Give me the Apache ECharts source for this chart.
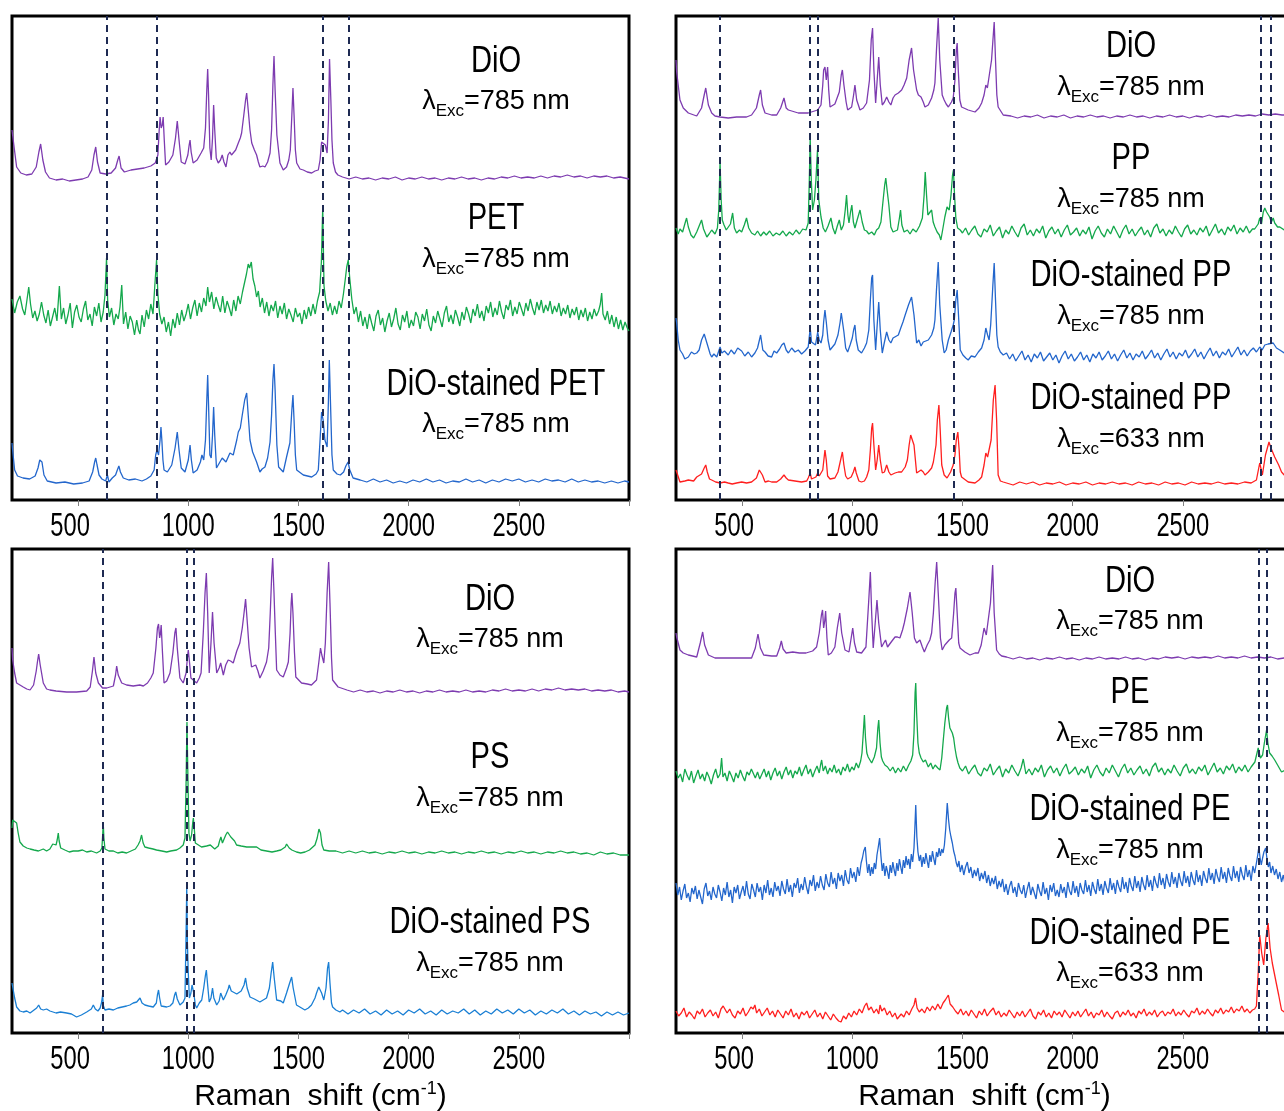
<!DOCTYPE html>
<html>
<head>
<meta charset="utf-8">
<script src="https://cdn.jsdelivr.net/npm/echarts@6/dist/echarts.min.js"></script>
<style>
html, body { margin: 0; padding: 0; background: #fff; }
#main { width: 1284px; height: 1111px; }
</style>
</head>
<body>
<div id="main"></div>
<script>
// x axis ticks (Raman shift, cm-1)
var tickLabels = [500, 1000, 1500, 2000, 2500];
var tickMarks = [500, 1000, 1500, 2000, 2500, 3000];

// dashed reference lines, one list per panel
var dashP1 = [629, 856, 1609, 1726];
var dashP2 = [400, 808, 844, 1461, 2854, 2900];
var dashP3 = [612, 995, 1024];
var dashP4 = [2845, 2881];

// text of the trace labels [name, excitation nm]
var labelsP1 = [['DiO', '785'], ['PET', '785'], ['DiO-stained PET', '785']];
var labelsP2 = [['DiO', '785'], ['PP', '785'], ['DiO-stained PP', '785'], ['DiO-stained PP', '633']];
var labelsP3 = [['DiO', '785'], ['PS', '785'], ['DiO-stained PS', '785']];
var labelsP4 = [['DiO', '785'], ['PE', '785'], ['DiO-stained PE', '785'], ['DiO-stained PE', '633']];

// spectra, [shift, stacked intensity] (arb. units)
var p1DiO = [[200,370],[210,352],[221,333],[240,327],[265,325],[290,326],[310,333],[322,348],[330,356],[340,340],[352,328],[370,322],[400,320],[430,321],[460,319],[490,320],[520,321],[545,323],[562,330],[572,345],[580,353],[588,338],[600,327],[625,326],[650,327],[670,332],[680,340],[686,344],[695,332],[710,328],[740,330],[770,331],[800,332],[830,334],[850,337],[862,345],[868,370],[872,383],[877,372],[882,375],[886,383],[891,360],[897,335],[912,338],[930,345],[942,362],[950,379],[958,360],[968,338],[985,336],[998,345],[1004,355],[1008,360],[1013,348],[1022,337],[1040,340],[1058,347],[1070,352],[1078,372],[1084,410],[1088,431],[1092,405],[1098,352],[1104,340],[1110,362],[1115,395],[1120,370],[1127,342],[1136,337],[1146,340],[1154,345],[1162,338],[1171,333],[1180,345],[1189,348],[1196,345],[1204,346],[1215,350],[1227,357],[1236,362],[1242,367],[1252,385],[1260,400],[1265,407],[1272,390],[1280,370],[1288,357],[1300,350],[1310,345],[1318,338],[1325,333],[1338,334],[1348,333],[1360,338],[1371,347],[1378,370],[1384,415],[1389,444],[1394,410],[1402,365],[1416,337],[1431,330],[1446,333],[1456,340],[1463,350],[1470,385],[1475,412],[1480,385],[1486,350],[1492,337],[1507,331],[1522,330],[1540,328],[1560,327],[1575,329],[1590,330],[1598,340],[1605,358],[1612,356],[1622,355],[1630,347],[1636,380],[1641,441],[1647,400],[1652,360],[1658,337],[1668,328],[1679,325],[1700,323],[1730,321],[1760,323],[1790,321],[1820,322],[1850,320],[1880,322],[1910,321],[1940,323],[1970,320],[2000,322],[2030,321],[2060,323],[2090,321],[2120,322],[2150,320],[2180,322],[2210,321],[2240,323],[2270,321],[2300,322],[2330,320],[2360,322],[2390,321],[2420,323],[2450,322],[2480,324],[2510,322],[2540,323],[2570,322],[2600,324],[2630,322],[2660,324],[2690,323],[2720,325],[2750,323],[2780,324],[2810,322],[2840,324],[2870,323],[2900,324],[2930,322],[2960,323],[3000,321]];

var p1PET = [[200,201],[212,187],[224,198],[236,204],[248,191],[258,185],[266,197],[276,213],[284,196],[294,182],[304,189],[314,179],[324,186],[334,198],[344,185],[354,177],[364,190],[374,174],[384,183],[394,192],[404,179],[415,214],[424,181],[434,192],[444,176],[454,185],[464,197],[474,172],[484,188],[494,195],[504,183],[514,178],[524,191],[534,199],[544,180],[554,186],[564,174],[574,193],[584,184],[594,197],[604,178],[614,188],[622,205],[629,242],[634,200],[642,183],[652,192],[662,175],[672,186],[682,181],[690,193],[698,215],[706,176],[716,188],[726,171],[736,184],[746,178],[756,165],[766,180],[774,170],[781,166],[790,185],[800,173],[810,190],[820,181],[830,196],[840,186],[848,214],[856,240],[862,206],[870,186],[880,176],[890,183],[900,168],[910,178],[920,164],[930,181],[940,172],[950,187],[960,175],[970,190],[980,179],[990,186],[1000,196],[1010,181],[1020,192],[1030,200],[1040,184],[1050,197],[1060,188],[1070,202],[1080,194],[1088,213],[1096,198],[1106,208],[1116,191],[1126,203],[1136,195],[1146,188],[1156,204],[1166,187],[1176,199],[1186,192],[1196,184],[1206,200],[1216,189],[1226,204],[1236,196],[1246,208],[1256,218],[1264,226],[1272,236],[1278,232],[1286,238],[1294,221],[1302,214],[1310,203],[1318,209],[1326,193],[1336,202],[1346,187],[1356,198],[1366,184],[1376,195],[1386,189],[1396,199],[1406,182],[1416,194],[1426,186],[1436,197],[1446,181],[1456,191],[1466,185],[1476,178],[1486,192],[1496,183],[1506,187],[1516,176],[1526,190],[1536,181],[1546,193],[1556,184],[1566,196],[1576,186],[1586,199],[1596,208],[1604,238],[1610,292],[1616,214],[1624,199],[1634,189],[1644,197],[1654,185],[1664,194],[1674,186],[1684,199],[1694,192],[1704,206],[1712,220],[1719,233],[1726,240],[1733,221],[1742,201],[1752,186],[1762,193],[1772,178],[1782,189],[1792,174],[1802,183],[1812,171],[1822,186],[1832,177],[1842,169],[1852,184],[1862,190],[1872,175],[1882,182],[1892,168],[1902,179],[1912,187],[1922,173],[1932,181],[1942,192],[1952,176],[1962,170],[1972,185],[1982,178],[1992,189],[2002,172],[2012,180],[2022,174],[2032,188],[2042,183],[2052,171],[2062,186],[2072,179],[2082,191],[2092,175],[2102,169],[2112,184],[2122,177],[2132,189],[2142,181],[2152,173],[2162,187],[2172,194],[2182,178],[2192,185],[2202,176],[2212,190],[2222,183],[2232,174],[2242,188],[2252,180],[2262,193],[2272,186],[2282,177],[2292,191],[2302,184],[2312,196],[2322,182],[2332,189],[2342,179],[2352,194],[2362,187],[2372,198],[2382,183],[2392,192],[2402,185],[2412,199],[2422,188],[2432,181],[2442,195],[2452,190],[2462,200],[2472,184],[2482,193],[2492,186],[2502,198],[2512,191],[2522,184],[2532,197],[2542,189],[2552,201],[2562,192],[2572,185],[2582,198],[2592,190],[2602,200],[2612,187],[2622,195],[2632,189],[2642,199],[2652,186],[2662,194],[2672,188],[2682,197],[2692,184],[2702,192],[2712,186],[2722,195],[2732,182],[2742,191],[2752,185],[2762,193],[2772,180],[2782,190],[2792,183],[2802,192],[2812,179],[2822,188],[2832,181],[2842,191],[2852,184],[2862,189],[2870,196],[2876,207],[2882,186],[2892,180],[2902,189],[2912,176],[2922,185],[2932,173],[2942,183],[2952,171],[2962,180],[2972,170],[2982,178],[2992,172],[3000,169]];

var p1Stained = [[200,57],[205,45],[212,30],[225,24],[250,22],[280,21],[305,24],[318,32],[326,40],[330,41],[336,38],[345,25],[360,19],[400,17],[440,18],[480,16],[520,17],[550,19],[566,28],[575,38],[580,42],[586,35],[595,25],[608,21],[625,19],[633,25],[640,18],[655,22],[670,25],[678,30],[685,34],[692,28],[705,22],[730,20],[760,21],[790,19],[810,21],[830,24],[845,30],[852,45],[858,50],[865,45],[872,60],[876,73],[880,60],[885,40],[890,30],[905,28],[925,35],[940,52],[950,68],[958,50],[968,32],[985,28],[1000,40],[1008,55],[1014,40],[1022,27],[1040,30],[1055,38],[1062,45],[1070,40],[1078,60],[1084,100],[1088,125],[1092,95],[1098,45],[1104,42],[1110,65],[1115,93],[1120,65],[1128,32],[1136,32],[1154,42],[1171,38],[1189,47],[1204,45],[1220,60],[1227,68],[1236,72],[1245,85],[1256,100],[1265,107],[1272,85],[1280,60],[1292,48],[1310,38],[1325,28],[1335,31],[1348,33],[1360,42],[1371,58],[1378,85],[1384,120],[1389,136],[1394,110],[1402,55],[1410,33],[1431,28],[1446,43],[1461,57],[1470,90],[1475,105],[1480,80],[1486,45],[1492,30],[1522,25],[1560,23],[1580,26],[1590,30],[1598,60],[1605,88],[1612,80],[1620,60],[1630,53],[1636,100],[1640,140],[1645,100],[1652,45],[1658,30],[1675,26],[1690,25],[1705,28],[1715,34],[1725,38],[1733,30],[1748,22],[1780,20],[1810,18],[1840,21],[1870,18],[1900,20],[1930,17],[1960,19],[1990,17],[2020,20],[2050,18],[2080,21],[2110,18],[2140,20],[2170,17],[2200,19],[2230,18],[2260,21],[2290,18],[2320,20],[2350,17],[2380,20],[2410,18],[2440,21],[2470,19],[2500,21],[2530,18],[2560,20],[2590,18],[2620,21],[2650,19],[2680,20],[2710,18],[2740,21],[2770,18],[2800,20],[2830,18],[2860,19],[2890,17],[2920,19],[2950,17],[2980,19],[3000,18]];

var p2DiO = [[200,440],[203,428],[218,400],[233,392],[256,387],[294,384],[316,392],[328,405],[335,412],[347,395],[362,387],[377,384],[400,383],[437,382],[475,383],[520,383],[543,385],[565,392],[578,405],[584,410],[592,395],[604,387],[634,385],[657,385],[675,392],[684,398],[690,402],[700,392],[710,390],[755,387],[800,387],[843,390],[858,395],[866,415],[870,430],[876,433],[882,420],[888,433],[893,410],[899,393],[921,396],[941,408],[950,425],[955,430],[962,415],[972,398],[979,390],[997,393],[1006,405],[1012,415],[1020,400],[1035,390],[1050,392],[1065,397],[1078,420],[1086,460],[1092,472],[1098,430],[1106,397],[1113,420],[1120,443],[1127,415],[1136,395],[1146,398],[1156,403],[1166,398],[1175,395],[1185,402],[1194,405],[1209,407],[1224,410],[1235,415],[1247,422],[1258,440],[1269,452],[1278,430],[1292,410],[1300,405],[1312,403],[1322,398],[1330,393],[1345,395],[1360,402],[1370,410],[1375,417],[1382,450],[1390,482],[1397,440],[1408,405],[1417,400],[1426,396],[1436,393],[1450,398],[1458,402],[1466,420],[1472,450],[1476,457],[1481,430],[1488,400],[1496,393],[1526,390],[1557,388],[1575,392],[1587,397],[1598,405],[1606,415],[1613,412],[1621,410],[1632,440],[1644,478],[1650,440],[1656,405],[1662,393],[1685,385],[1720,384],[1750,382],[1780,384],[1810,383],[1840,385],[1870,382],[1900,384],[1930,383],[1960,385],[1990,382],[2020,384],[2050,383],[2080,385],[2110,383],[2140,384],[2170,382],[2200,384],[2230,383],[2260,385],[2290,383],[2320,384],[2350,382],[2380,384],[2410,383],[2440,385],[2470,383],[2500,384],[2530,382],[2560,384],[2590,383],[2620,385],[2650,383],[2680,384],[2710,383],[2740,385],[2770,384],[2800,385],[2830,384],[2860,386],[2890,385],[2920,386],[2950,385],[3000,385]];

var p2PP = [[200,272],[210,266],[218,271],[230,268],[240,276],[248,282],[256,273],[268,265],[280,262],[294,268],[305,274],[316,280],[325,271],[340,263],[350,266],[362,270],[377,266],[388,272],[394,290],[400,338],[405,300],[410,280],[418,275],[428,270],[437,268],[447,276],[457,287],[465,272],[475,267],[488,270],[498,268],[510,275],[520,282],[530,272],[543,267],[558,265],[570,269],[584,264],[598,268],[610,265],[625,269],[640,264],[655,267],[670,265],[685,269],[700,264],[715,268],[730,265],[745,270],[760,266],[775,271],[790,270],[800,277],[805,320],[809,362],[814,320],[820,290],[828,300],[835,320],[842,350],[848,300],[858,283],[868,272],[878,268],[890,274],[903,282],[912,272],[922,266],[932,274],[941,280],[950,270],[960,275],[968,290],[974,305],[980,285],[985,277],[992,288],[998,295],[1005,278],[1012,272],[1022,280],[1035,290],[1045,278],[1055,270],[1065,269],[1075,266],[1088,268],[1100,265],[1110,270],[1120,272],[1130,278],[1140,300],[1147,315],[1152,322],[1158,310],[1166,295],[1175,273],[1185,268],[1194,266],[1205,270],[1214,282],[1219,290],[1225,275],[1235,268],[1250,270],[1262,266],[1275,271],[1290,268],[1305,274],[1318,282],[1326,305],[1331,328],[1337,305],[1343,285],[1350,285],[1360,290],[1367,278],[1375,273],[1385,268],[1395,265],[1402,260],[1410,270],[1420,283],[1430,293],[1440,290],[1448,305],[1455,325],[1459,330],[1464,305],[1470,282],[1478,272],[1490,270],[1500,267],[1514,272],[1528,265],[1542,270],[1556,274],[1570,266],[1584,263],[1598,271],[1612,268],[1626,275],[1640,264],[1654,269],[1668,273],[1682,262],[1696,270],[1710,266],[1724,274],[1738,268],[1752,263],[1766,272],[1780,276],[1794,265],[1808,270],[1822,264],[1836,271],[1850,267],[1864,274],[1878,262],[1892,269],[1906,273],[1920,266],[1934,271],[1948,263],[1962,270],[1976,275],[1990,265],[2004,268],[2018,272],[2032,264],[2046,270],[2060,266],[2074,273],[2088,261],[2102,269],[2116,274],[2130,267],[2144,263],[2158,271],[2172,266],[2186,274],[2200,268],[2214,262],[2228,270],[2242,275],[2256,266],[2270,271],[2284,264],[2298,269],[2312,273],[2326,265],[2340,270],[2354,263],[2368,272],[2382,276],[2396,267],[2410,271],[2424,264],[2438,270],[2452,266],[2466,274],[2480,268],[2494,263],[2508,271],[2522,275],[2536,266],[2550,270],[2564,265],[2578,272],[2592,268],[2606,274],[2620,264],[2634,270],[2648,276],[2662,267],[2676,271],[2690,265],[2704,273],[2718,269],[2732,275],[2746,266],[2760,272],[2774,268],[2788,274],[2802,267],[2816,271],[2826,271],[2834,272],[2842,276],[2849,282],[2857,276],[2865,288],[2872,292],[2880,288],[2887,290],[2894,283],[2902,278],[2910,282],[2917,277],[2930,273],[2940,273],[2960,270],[3000,270]];

var p2Stained = [[200,182],[203,177],[210,160],[218,150],[230,146],[240,141],[256,143],[270,148],[283,146],[294,147],[305,150],[316,160],[328,166],[335,168],[347,152],[355,146],[362,143],[372,146],[385,143],[400,153],[408,147],[420,149],[437,145],[450,150],[465,146],[480,152],[498,149],[512,144],[528,148],[543,143],[558,147],[570,152],[584,165],[594,150],[604,148],[618,144],[634,143],[645,149],[657,147],[670,151],[680,155],[690,157],[700,150],[710,147],[725,152],[740,148],[755,150],[770,146],[785,149],[800,153],[809,172],[815,158],[823,157],[833,155],[843,168],[850,160],[858,157],[866,165],[870,178],[876,190],[882,178],[890,160],[899,150],[910,153],[921,156],[935,165],[945,178],[950,187],[955,185],[962,168],[970,152],[979,148],[990,155],[1000,162],[1006,170],[1012,175],[1018,160],[1027,150],[1035,148],[1042,147],[1055,152],[1065,157],[1075,170],[1082,200],[1088,222],[1092,225],[1098,180],[1106,150],[1113,175],[1120,198],[1127,170],[1136,147],[1146,158],[1156,168],[1166,160],[1175,157],[1185,162],[1194,162],[1209,165],[1220,172],[1230,178],[1240,185],[1255,195],[1269,203],[1280,185],[1292,157],[1302,160],[1312,154],[1322,158],[1330,156],[1345,160],[1360,165],[1370,172],[1375,180],[1382,210],[1390,238],[1397,195],[1408,160],[1417,147],[1426,150],[1436,160],[1448,168],[1458,175],[1463,180],[1470,200],[1476,210],[1482,185],[1490,150],[1502,145],[1515,142],[1526,140],[1540,144],[1557,143],[1572,148],[1587,152],[1598,160],[1606,172],[1614,165],[1621,160],[1628,175],[1638,215],[1644,237],[1650,200],[1656,165],[1662,153],[1672,148],[1685,145],[1700,147],[1714,141],[1728,146],[1742,139],[1756,144],[1770,149],[1784,140],[1798,145],[1812,138],[1826,146],[1840,142],[1854,148],[1868,139],[1882,143],[1896,147],[1910,140],[1924,145],[1938,137],[1952,144],[1966,149],[1980,141],[1994,146],[2008,139],[2022,143],[2036,148],[2050,140],[2064,145],[2078,138],[2092,146],[2106,142],[2120,148],[2134,140],[2148,144],[2162,149],[2176,141],[2190,146],[2204,139],[2218,145],[2232,150],[2246,142],[2260,147],[2274,140],[2288,146],[2302,143],[2316,149],[2330,141],[2344,145],[2358,150],[2372,142],[2386,147],[2400,140],[2414,146],[2428,151],[2442,143],[2456,148],[2470,141],[2484,147],[2498,144],[2512,150],[2526,142],[2540,146],[2554,151],[2568,143],[2582,148],[2596,141],[2610,147],[2624,152],[2638,144],[2652,149],[2666,142],[2680,148],[2694,145],[2708,151],[2722,143],[2736,148],[2750,153],[2764,145],[2778,150],[2792,144],[2806,149],[2820,152],[2834,148],[2849,153],[2860,150],[2872,155],[2887,156],[2894,157],[2910,157],[2925,152],[2940,150],[2960,147],[3000,145]];

var p2Red = [[200,30],[203,28],[212,22],[218,18],[240,19],[256,20],[280,19],[294,23],[316,26],[328,32],[335,35],[342,28],[352,21],[362,20],[380,18],[400,17],[420,18],[437,17],[455,16],[475,17],[498,18],[520,17],[543,18],[565,22],[578,30],[584,32],[592,25],[604,18],[620,19],[634,18],[657,18],[675,21],[690,25],[700,22],[710,20],[740,19],[770,18],[793,19],[800,22],[809,27],[815,21],[823,20],[835,23],[843,27],[850,24],[858,23],[866,30],[872,42],[876,50],[882,40],[888,24],[899,21],[921,22],[935,28],[945,38],[955,48],[962,35],[970,24],[979,21],[995,23],[1005,28],[1012,33],[1018,27],[1030,19],[1042,18],[1055,19],[1065,23],[1075,30],[1082,50],[1088,72],[1092,77],[1098,55],[1106,30],[1113,40],[1120,55],[1127,40],[1136,27],[1146,28],[1156,35],[1166,28],[1175,25],[1194,27],[1209,28],[1224,28],[1240,33],[1250,40],[1258,55],[1265,65],[1272,67],[1280,55],[1292,27],[1300,25],[1312,30],[1322,28],[1330,25],[1345,28],[1360,32],[1368,38],[1375,40],[1380,55],[1386,80],[1393,95],[1399,70],[1406,35],[1417,25],[1430,22],[1436,22],[1446,28],[1458,35],[1466,45],[1472,60],[1479,68],[1485,50],[1490,28],[1496,23],[1526,18],[1557,17],[1575,20],[1587,23],[1598,35],[1606,47],[1614,43],[1621,43],[1630,60],[1640,100],[1648,115],[1655,80],[1662,25],[1672,19],[1685,18],[1700,17],[1730,15],[1760,18],[1790,16],[1820,18],[1850,15],[1880,17],[1910,16],[1940,18],[1970,15],[2000,17],[2030,16],[2060,18],[2090,15],[2120,17],[2150,16],[2180,18],[2210,16],[2240,17],[2270,15],[2300,18],[2330,16],[2360,17],[2390,15],[2420,18],[2450,16],[2480,17],[2510,15],[2540,18],[2570,16],[2600,17],[2630,16],[2660,18],[2690,16],[2720,17],[2750,16],[2780,18],[2810,17],[2834,20],[2849,37],[2861,25],[2875,45],[2891,58],[2900,52],[2917,43],[2935,35],[2948,28],[2960,25],[3000,22]];

var p3DiO = [[200,385],[203,373],[212,360],[221,350],[236,348],[251,346],[267,344],[282,343],[298,348],[310,362],[316,372],[321,379],[328,368],[342,350],[357,344],[372,343],[400,342],[448,341],[493,341],[539,342],[555,346],[565,362],[572,376],[580,360],[592,350],[611,345],[630,345],[660,347],[670,358],[675,367],[682,358],[698,350],[720,348],[750,347],[780,348],[796,347],[815,350],[830,355],[841,360],[853,385],[860,405],[865,409],[870,395],[874,400],[877,408],[883,380],[890,350],[902,352],[917,360],[930,380],[939,400],[944,405],[950,385],[962,355],[977,350],[990,360],[996,375],[1000,383],[1005,372],[1012,355],[1020,353],[1038,350],[1050,355],[1058,360],[1068,400],[1076,440],[1082,460],[1088,420],[1095,360],[1103,390],[1110,421],[1117,390],[1129,360],[1140,365],[1147,370],[1159,358],[1170,368],[1181,373],[1192,372],[1204,370],[1220,382],[1234,390],[1245,405],[1253,420],[1260,434],[1268,410],[1276,385],[1287,366],[1306,368],[1316,362],[1325,355],[1340,362],[1355,371],[1365,385],[1372,420],[1378,455],[1383,475],[1389,440],[1395,400],[1401,363],[1416,358],[1431,356],[1446,365],[1454,371],[1462,400],[1467,430],[1470,440],[1475,420],[1482,380],[1488,356],[1514,350],[1540,349],[1559,348],[1582,353],[1592,370],[1600,385],[1606,378],[1615,370],[1622,390],[1630,440],[1637,471],[1643,430],[1650,375],[1655,353],[1680,346],[1720,343],[1750,341],[1780,343],[1810,341],[1840,342],[1870,340],[1900,342],[1930,341],[1960,343],[1990,341],[2020,342],[2050,340],[2080,342],[2110,341],[2140,343],[2170,341],[2200,342],[2230,341],[2260,343],[2290,341],[2320,342],[2350,341],[2380,343],[2410,342],[2440,344],[2470,342],[2500,343],[2530,342],[2560,344],[2590,342],[2620,344],[2650,343],[2680,345],[2710,343],[2740,344],[2770,343],[2800,344],[2830,342],[2860,343],[2890,342],[2920,343],[2950,341],[2980,342],[3000,341]];

var p3PS = [[200,205],[203,213],[212,212],[221,210],[228,200],[236,191],[251,187],[267,185],[282,184],[300,183],[320,182],[342,184],[357,182],[372,184],[385,189],[392,191],[400,188],[405,193],[410,200],[414,192],[421,185],[440,183],[460,181],[478,182],[500,182],[520,183],[539,181],[560,182],[584,180],[600,182],[608,185],[612,200],[614,210],[617,195],[622,184],[640,182],[660,182],[680,180],[700,181],[720,180],[740,182],[760,184],[772,188],[781,192],[788,198],[795,190],[803,186],[820,185],[840,184],[856,183],[880,182],[902,181],[920,182],[947,183],[962,185],[977,188],[985,195],[990,250],[994,311],[998,260],[1003,200],[1008,192],[1015,198],[1020,210],[1023,215],[1027,205],[1032,190],[1038,188],[1060,186],[1083,187],[1100,188],[1120,184],[1136,187],[1142,192],[1148,196],[1155,190],[1162,192],[1170,198],[1178,201],[1186,199],[1193,196],[1200,198],[1210,192],[1219,188],[1240,187],[1265,186],[1290,186],[1310,186],[1330,183],[1355,182],[1380,181],[1401,182],[1420,183],[1440,186],[1446,189],[1452,190],[1458,185],[1470,183],[1491,181],[1510,180],[1530,181],[1550,183],[1565,186],[1575,188],[1585,195],[1593,204],[1600,200],[1607,188],[1615,183],[1640,182],[1670,182],[1700,180],[1730,182],[1760,180],[1790,182],[1820,180],[1850,181],[1880,179],[1910,181],[1940,180],[1970,182],[2000,180],[2030,181],[2060,179],[2090,181],[2120,180],[2150,182],[2180,180],[2210,181],[2240,179],[2270,181],[2300,180],[2330,182],[2360,180],[2390,181],[2420,179],[2450,181],[2480,180],[2510,182],[2540,180],[2570,181],[2600,179],[2630,181],[2660,180],[2690,182],[2720,180],[2750,181],[2780,179],[2810,180],[2840,178],[2870,181],[2900,179],[2930,180],[2960,178],[3000,178]];

var p3Stained = [[200,50],[203,48],[212,35],[221,26],[236,22],[251,21],[267,22],[282,20],[300,23],[312,25],[321,28],[330,24],[342,23],[357,24],[372,22],[400,20],[420,21],[448,20],[470,19],[493,16],[515,18],[539,21],[560,24],[569,28],[578,24],[590,22],[600,25],[606,30],[611,38],[615,27],[622,23],[640,24],[660,23],[680,25],[700,26],[720,27],[735,28],[750,30],[766,31],[775,33],[781,35],[790,30],[803,28],[820,27],[841,26],[855,30],[860,38],[865,43],[870,35],[877,27],[886,25],[902,26],[917,27],[930,30],[938,38],[943,41],[950,34],[962,28],[977,31],[985,35],[990,100],[993,146],[996,90],[1000,60],[1005,35],[1012,40],[1017,48],[1020,50],[1025,40],[1032,28],[1038,25],[1050,30],[1061,33],[1070,45],[1078,58],[1082,63],[1087,50],[1095,31],[1103,35],[1110,45],[1116,35],[1129,28],[1140,32],[1147,40],[1159,33],[1170,38],[1181,44],[1186,48],[1195,42],[1204,40],[1220,39],[1240,42],[1253,48],[1260,55],[1267,45],[1280,36],[1300,34],[1325,31],[1340,33],[1355,35],[1368,45],[1376,60],[1383,71],[1390,55],[1401,33],[1420,32],[1431,30],[1446,40],[1460,50],[1469,56],[1476,45],[1491,28],[1514,25],[1529,23],[1545,25],[1559,28],[1575,35],[1582,40],[1592,46],[1597,48],[1605,40],[1615,33],[1625,45],[1632,65],[1637,71],[1643,50],[1650,30],[1655,26],[1670,23],[1688,21],[1700,23],[1725,19],[1750,23],[1775,20],[1800,24],[1825,19],[1850,22],[1875,18],[1900,23],[1925,19],[1950,22],[1975,18],[2000,23],[2025,20],[2050,24],[2075,19],[2100,22],[2125,18],[2150,23],[2175,19],[2200,22],[2225,20],[2250,24],[2275,19],[2300,23],[2325,18],[2350,22],[2375,19],[2400,24],[2425,20],[2450,23],[2475,19],[2500,24],[2525,20],[2550,23],[2575,18],[2600,22],[2625,19],[2650,23],[2675,20],[2700,24],[2725,19],[2750,22],[2775,18],[2800,22],[2825,19],[2850,21],[2875,17],[2900,21],[2925,18],[2950,21],[2975,18],[3000,20]];

var p4DiO = [[200,400],[203,396],[218,383],[233,380],[256,378],[294,376],[310,390],[321,401],[330,388],[347,378],[377,375],[420,375],[480,375],[543,375],[560,385],[572,399],[583,385],[598,378],[634,377],[657,377],[670,385],[678,392],[686,384],[700,380],[730,381],[760,380],[790,380],[820,382],[838,386],[850,400],[860,418],[865,423],[870,405],[875,412],[879,422],[885,395],[891,378],[905,380],[921,386],[932,405],[943,420],[952,400],[967,383],[985,381],[995,395],[1002,405],[1010,390],[1020,381],[1042,380],[1062,386],[1074,430],[1082,461],[1088,420],[1095,385],[1104,410],[1112,433],[1120,410],[1133,386],[1143,390],[1151,393],[1160,386],[1168,385],[1180,392],[1194,396],[1205,396],[1216,395],[1228,403],[1236,410],[1250,425],[1262,441],[1272,420],[1282,395],[1292,390],[1307,393],[1318,386],[1327,381],[1340,388],[1352,393],[1360,400],[1368,420],[1376,450],[1383,471],[1390,440],[1400,395],[1408,383],[1420,388],[1428,390],[1440,393],[1451,395],[1460,420],[1466,440],[1470,445],[1476,420],[1483,390],[1489,385],[1511,381],[1534,378],[1557,380],[1572,380],[1585,388],[1598,405],[1608,398],[1617,396],[1627,430],[1637,468],[1644,420],[1655,383],[1667,379],[1678,377],[1700,376],[1730,374],[1760,376],[1790,374],[1820,375],[1850,373],[1880,375],[1910,374],[1940,376],[1970,374],[2000,375],[2030,373],[2060,375],[2090,374],[2120,376],[2150,374],[2180,375],[2210,374],[2240,376],[2270,374],[2300,375],[2330,373],[2360,375],[2390,374],[2420,376],[2450,375],[2480,376],[2510,374],[2540,376],[2570,375],[2600,376],[2630,375],[2660,377],[2690,375],[2720,376],[2750,375],[2780,377],[2810,375],[2840,376],[2870,375],[2900,376],[2930,374],[2960,375],[3000,374]];

var p4PE = [[200,262],[210,255],[220,259],[230,251],[240,264],[250,258],[260,253],[270,262],[280,250],[290,257],[300,263],[310,254],[320,259],[330,252],[340,261],[350,256],[360,249],[370,258],[380,264],[390,255],[400,259],[407,275],[413,256],[422,260],[432,252],[442,262],[452,257],[462,251],[472,260],[482,255],[492,263],[502,257],[512,252],[522,261],[532,258],[542,264],[551,266],[560,255],[570,261],[580,254],[590,259],[600,264],[610,256],[620,262],[630,253],[640,260],[650,265],[660,257],[670,262],[680,254],[690,261],[700,266],[710,258],[720,263],[730,255],[740,262],[750,259],[760,266],[770,257],[780,263],[790,268],[800,259],[810,264],[820,256],[830,262],[840,267],[850,260],[856,268],[861,273],[868,262],[878,267],[888,259],[898,265],[908,261],[918,268],[928,260],[938,264],[948,258],[958,266],[968,262],[978,269],[988,261],[998,266],[1008,263],[1018,270],[1028,265],[1038,272],[1044,280],[1050,300],[1055,318],[1060,295],[1066,280],[1072,276],[1080,273],[1088,270],[1100,276],[1110,285],[1116,305],[1120,313],[1126,290],[1132,276],[1138,272],[1148,268],[1160,266],[1172,262],[1184,266],[1196,260],[1208,265],[1220,261],[1232,267],[1244,262],[1256,268],[1266,272],[1274,278],[1280,300],[1285,340],[1288,350],[1292,320],[1298,290],[1304,280],[1312,275],[1322,271],[1332,273],[1345,266],[1356,270],[1366,264],[1376,268],[1388,265],[1398,263],[1406,275],[1413,293],[1420,310],[1428,325],[1432,328],[1437,315],[1443,305],[1448,303],[1454,300],[1460,295],[1466,285],[1473,276],[1480,270],[1488,265],[1500,262],[1514,267],[1528,259],[1542,264],[1556,268],[1570,260],[1584,257],[1598,265],[1612,262],[1626,269],[1640,258],[1654,263],[1668,267],[1682,256],[1696,264],[1710,260],[1724,268],[1738,262],[1752,257],[1766,265],[1776,274],[1788,259],[1802,264],[1816,258],[1830,265],[1844,261],[1858,268],[1872,256],[1886,263],[1900,267],[1914,260],[1928,265],[1942,257],[1956,264],[1970,269],[1984,259],[1998,262],[2012,266],[2026,258],[2040,264],[2054,260],[2068,267],[2082,255],[2096,263],[2110,268],[2124,261],[2138,257],[2152,265],[2166,260],[2180,268],[2194,262],[2208,256],[2222,264],[2236,269],[2250,260],[2264,265],[2278,258],[2292,263],[2306,267],[2320,259],[2334,264],[2348,257],[2362,266],[2376,270],[2390,261],[2404,265],[2418,258],[2432,264],[2446,260],[2460,268],[2474,262],[2488,257],[2502,265],[2516,269],[2530,260],[2544,264],[2558,259],[2572,266],[2586,262],[2600,268],[2614,258],[2628,264],[2642,270],[2656,261],[2670,265],[2684,259],[2698,267],[2712,263],[2726,269],[2740,260],[2754,266],[2768,262],[2782,268],[2796,261],[2810,266],[2827,271],[2842,285],[2852,275],[2862,278],[2870,290],[2880,303],[2886,290],[2894,280],[2905,277],[2917,273],[2930,268],[2948,261],[2965,263],[3000,260]];

var p4Stained = [[200,150],[208,138],[216,146],[224,133],[232,142],[240,149],[248,135],[256,140],[264,131],[272,145],[280,139],[288,147],[296,134],[304,143],[312,136],[320,129],[328,144],[336,150],[344,137],[352,142],[360,133],[368,146],[376,139],[384,135],[392,148],[400,141],[408,132],[416,145],[424,138],[432,151],[440,136],[448,143],[456,130],[464,146],[472,140],[480,148],[488,134],[496,141],[504,147],[512,137],[520,152],[528,139],[536,134],[544,149],[552,143],[560,136],[568,150],[576,141],[584,146],[592,133],[600,148],[608,140],[616,153],[624,138],[632,145],[640,136],[648,151],[656,142],[664,147],[672,137],[680,152],[688,144],[696,139],[704,154],[712,141],[720,148],[728,136],[736,150],[744,145],[752,155],[760,140],[768,149],[776,143],[784,156],[792,146],[800,139],[808,153],[816,147],[824,158],[832,142],[840,151],[848,145],[856,157],[864,148],[872,143],[880,159],[888,150],[896,146],[904,161],[912,149],[920,155],[928,144],[936,160],[944,152],[952,158],[960,147],[968,163],[976,153],[984,149],[992,165],[1000,155],[1008,161],[1016,151],[1024,166],[1032,157],[1040,170],[1046,175],[1052,182],[1059,186],[1064,172],[1070,160],[1076,169],[1082,157],[1088,166],[1094,159],[1100,170],[1106,164],[1112,178],[1118,186],[1124,195],[1130,177],[1136,162],[1142,170],[1148,157],[1154,167],[1160,161],[1166,154],[1172,168],[1178,160],[1184,171],[1190,163],[1196,157],[1202,170],[1208,162],[1214,174],[1220,166],[1226,159],[1232,173],[1238,165],[1244,177],[1250,168],[1256,174],[1262,164],[1268,179],[1274,171],[1280,185],[1284,205],[1288,228],[1293,196],[1298,181],[1304,172],[1310,178],[1316,166],[1322,176],[1328,169],[1334,180],[1340,172],[1346,165],[1352,178],[1358,171],[1364,182],[1370,174],[1376,168],[1382,181],[1388,176],[1394,185],[1400,177],[1406,184],[1412,180],[1418,188],[1424,204],[1431,230],[1437,213],[1442,203],[1448,196],[1454,190],[1460,182],[1466,177],[1472,170],[1478,166],[1484,172],[1490,161],[1498,168],[1506,158],[1514,166],[1522,171],[1530,160],[1538,166],[1546,155],[1554,163],[1562,157],[1570,165],[1578,152],[1586,160],[1594,154],[1602,162],[1610,150],[1618,158],[1626,147],[1634,155],[1642,149],[1650,157],[1658,144],[1666,152],[1674,146],[1682,154],[1690,141],[1698,149],[1706,138],[1714,147],[1722,152],[1730,140],[1738,146],[1746,136],[1754,150],[1762,143],[1770,139],[1778,148],[1786,135],[1794,144],[1802,151],[1810,138],[1818,146],[1826,140],[1834,134],[1842,149],[1850,142],[1858,137],[1866,151],[1874,139],[1882,145],[1890,133],[1898,148],[1906,141],[1914,150],[1922,137],[1930,143],[1938,136],[1946,149],[1954,140],[1962,146],[1970,135],[1978,151],[1986,142],[1994,138],[2002,152],[2010,140],[2018,147],[2026,136],[2034,150],[2042,143],[2050,139],[2058,153],[2066,141],[2074,148],[2082,137],[2090,151],[2098,144],[2106,139],[2114,154],[2122,142],[2130,149],[2138,138],[2146,152],[2154,145],[2162,140],[2170,155],[2178,143],[2186,150],[2194,139],[2202,153],[2210,146],[2218,141],[2226,156],[2234,144],[2242,151],[2250,140],[2258,155],[2266,147],[2274,142],[2282,157],[2290,145],[2298,152],[2306,141],[2314,156],[2322,148],[2330,143],[2338,158],[2346,146],[2354,153],[2362,142],[2370,157],[2378,150],[2386,145],[2394,160],[2402,148],[2410,155],[2418,144],[2426,159],[2434,151],[2442,146],[2450,161],[2458,149],[2466,156],[2474,145],[2482,160],[2490,152],[2498,147],[2506,162],[2514,150],[2522,157],[2530,146],[2538,161],[2546,153],[2554,148],[2562,163],[2570,151],[2578,158],[2586,147],[2594,162],[2602,155],[2610,150],[2618,165],[2626,153],[2634,160],[2642,149],[2650,164],[2658,156],[2666,151],[2674,166],[2682,154],[2690,161],[2698,150],[2706,165],[2714,157],[2722,152],[2730,167],[2738,155],[2746,162],[2754,151],[2762,166],[2770,158],[2778,153],[2786,168],[2794,156],[2802,163],[2810,152],[2818,167],[2826,160],[2834,170],[2840,178],[2845,186],[2850,176],[2856,168],[2862,175],[2868,181],[2876,185],[2882,174],[2888,166],[2894,171],[2900,160],[2908,167],[2916,158],[2924,164],[2932,154],[2940,161],[2948,151],[2956,158],[2964,149],[2972,155],[2980,147],[2990,153],[3000,146]];

var p4Red = [[200,22],[212,17],[224,20],[236,25],[248,16],[260,21],[272,18],[284,14],[296,22],[308,19],[320,24],[332,16],[344,20],[356,23],[368,17],[380,21],[392,15],[404,24],[414,27],[422,28],[432,20],[444,24],[456,18],[468,15],[480,22],[492,19],[504,25],[516,17],[528,21],[540,26],[550,24],[558,28],[566,20],[578,24],[590,17],[602,21],[614,25],[626,18],[638,22],[650,16],[662,23],[674,19],[686,15],[698,22],[710,18],[722,24],[734,16],[746,20],[758,14],[770,21],[782,18],[794,22],[806,15],[818,19],[830,23],[842,16],[854,20],[866,14],[878,21],[890,17],[902,13],[914,19],[926,15],[938,12],[949,11],[960,17],[972,14],[984,20],[996,16],[1008,22],[1020,18],[1032,24],[1044,20],[1056,27],[1065,30],[1074,23],[1086,26],[1098,20],[1110,24],[1120,19],[1126,28],[1134,22],[1146,25],[1158,18],[1170,22],[1182,16],[1194,20],[1204,14],[1212,13],[1222,19],[1234,16],[1246,22],[1258,18],[1270,24],[1280,28],[1287,35],[1294,25],[1304,21],[1316,24],[1328,20],[1340,26],[1352,22],[1364,27],[1376,23],[1388,29],[1400,24],[1412,30],[1422,33],[1430,31],[1436,38],[1444,29],[1456,26],[1468,22],[1480,19],[1492,24],[1504,18],[1516,22],[1528,17],[1540,23],[1552,19],[1564,15],[1576,22],[1588,18],[1600,24],[1612,17],[1624,21],[1640,25],[1652,18],[1664,22],[1676,16],[1688,20],[1700,17],[1712,23],[1724,19],[1736,15],[1748,21],[1760,17],[1772,22],[1784,16],[1796,20],[1808,24],[1820,17],[1832,14],[1844,21],[1856,18],[1868,23],[1880,16],[1892,20],[1904,15],[1916,22],[1928,18],[1940,21],[1952,16],[1964,23],[1976,19],[1988,15],[2000,21],[2012,17],[2024,22],[2036,16],[2048,20],[2060,24],[2072,17],[2084,21],[2096,15],[2108,20],[2120,18],[2132,23],[2144,16],[2156,21],[2168,17],[2180,14],[2192,20],[2204,22],[2216,16],[2228,21],[2240,18],[2252,23],[2264,17],[2276,20],[2288,15],[2300,22],[2312,19],[2324,24],[2336,17],[2348,21],[2360,18],[2372,23],[2384,16],[2396,20],[2408,22],[2420,17],[2432,21],[2444,19],[2456,24],[2468,17],[2480,21],[2492,18],[2504,23],[2516,19],[2528,16],[2540,22],[2552,20],[2564,25],[2576,18],[2588,22],[2600,19],[2612,24],[2624,20],[2636,17],[2648,23],[2660,20],[2672,25],[2684,19],[2696,23],[2708,21],[2720,26],[2732,20],[2744,24],[2756,22],[2768,27],[2780,21],[2792,24],[2804,20],[2816,23],[2826,24],[2834,27],[2842,60],[2849,98],[2858,80],[2867,68],[2877,95],[2887,110],[2896,85],[2906,70],[2915,60],[2924,50],[2935,38],[2948,23],[2960,21],[3000,20]];

var FONT = "'Liberation Sans', Arial, sans-serif";
var PURPLE = '#7d3bb0', GREEN = '#14a84c', BLUE = '#2366cc', BLUE2 = '#1a7fd4', RED = '#ff1f1f';

var panels = [
    { left: 12, top: 16, dashes: dashP1, labels: labelsP1, labelX: 496, labelY: [[62, 102], [219, 260], [385, 425]],
      traces: [[p1DiO, PURPLE], [p1PET, GREEN], [p1Stained, BLUE]] },
    { left: 676, top: 16, dashes: dashP2, labels: labelsP2, labelX: 1131, labelY: [[47, 88], [159, 200], [276, 317], [399, 440]],
      traces: [[p2DiO, PURPLE], [p2PP, GREEN], [p2Stained, BLUE], [p2Red, RED]] },
    { left: 12, top: 549, dashes: dashP3, labels: labelsP3, labelX: 490, labelY: [[600, 640], [758, 799], [923, 964]],
      traces: [[p3DiO, PURPLE], [p3PS, GREEN], [p3Stained, BLUE2]], axisName: true },
    { left: 676, top: 549, dashes: dashP4, labels: labelsP4, labelX: 1130, labelY: [[582, 622], [693, 734], [810, 851], [934, 974]],
      traces: [[p4DiO, PURPLE], [p4PE, GREEN], [p4Stained, BLUE], [p4Red, RED]], axisName: true }
];

var grids = [], xAxes = [], yAxes = [], series = [], graphics = [];

panels.forEach(function (p, i) {
    grids.push({
        left: p.left, top: p.top, width: 617, height: 484,
        show: true, borderColor: '#000', borderWidth: 3, backgroundColor: 'transparent',
        containLabel: false, outerBoundsMode: 'none'
    });
    xAxes.push({
        gridIndex: i, type: 'value', min: 200, max: 3000,
        axisLine: { show: false },
        splitLine: { show: false },
        axisTick: { show: true, inside: false, length: 6, customValues: tickMarks, lineStyle: { color: '#808080', width: 1 } },
        axisLabel: { show: false },
        name: p.axisName ? '{a|Raman  shift (cm}{b|-1}{a|)}' : '',
        nameLocation: 'middle', nameGap: 47,
        nameTextStyle: {
            rich: {
                a: { fontSize: 30, fontFamily: FONT, color: '#000', lineHeight: 34 },
                b: { fontSize: 18, fontFamily: FONT, color: '#000', lineHeight: 20, verticalAlign: 'top' }
            }
        }
    });
    yAxes.push({ gridIndex: i, type: 'value', min: 0, max: 484, show: false });

    p.traces.forEach(function (t, k) {
        var s = {
            type: 'line', xAxisIndex: i, yAxisIndex: i, data: t[0],
            showSymbol: false, symbol: 'none', silent: true, animation: false,
            lineStyle: { color: t[1], width: 1.3 }, z: 2
        };
        if (k === 0) {
            s.markLine = {
                silent: true, symbol: 'none', animation: false, z: 5,
                label: { show: false },
                lineStyle: { color: '#1e2a52', type: [7, 5], width: 2 },
                data: p.dashes.map(function (v) { return { xAxis: v }; })
            };
        }
        series.push(s);
    });

    p.labels.forEach(function (lb, k) {
        graphics.push({
            type: 'text', x: p.labelX, y: p.labelY[k][0], z: 10, scaleX: 0.81,
            style: { text: lb[0], fontSize: 36, fontFamily: FONT, fill: '#000', align: 'center', verticalAlign: 'middle' }
        });
        graphics.push({
            type: 'text', x: p.labelX, y: p.labelY[k][1], z: 10,
            style: {
                text: '{m|\u03bb}{s|Exc}{m|=' + lb[1] + ' nm}',
                align: 'center', verticalAlign: 'middle',
                rich: {
                    m: { fontSize: 27, fontFamily: FONT, fill: '#000', lineHeight: 36 },
                    s: { fontSize: 17, fontFamily: FONT, fill: '#000', lineHeight: 14, verticalAlign: 'bottom' }
                }
            }
        });
    });
});

var chart = echarts.init(document.getElementById('main'), null, { renderer: 'canvas' });
chart.setOption({
    backgroundColor: '#fff',
    animation: false,
    grid: grids,
    xAxis: xAxes,
    yAxis: yAxes,
    series: series,
    graphic: graphics
});

// condensed tick labels, placed through each panel's x axis
panels.forEach(function (p, i) {
    tickLabels.forEach(function (v) {
        var px = chart.convertToPixel({ xAxisIndex: i }, v);
        var dx = String(v).length < 4 ? -8 : 0;
        graphics.push({
            type: 'text', x: px + dx, y: p.top + 484 + 27, z: 10, scaleX: 0.72,
            style: { text: String(v), fontSize: 33, fontFamily: FONT, fill: '#000', align: 'center', verticalAlign: 'middle' }
        });
    });
});
chart.setOption({ graphic: graphics });
</script>
</body>
</html>
